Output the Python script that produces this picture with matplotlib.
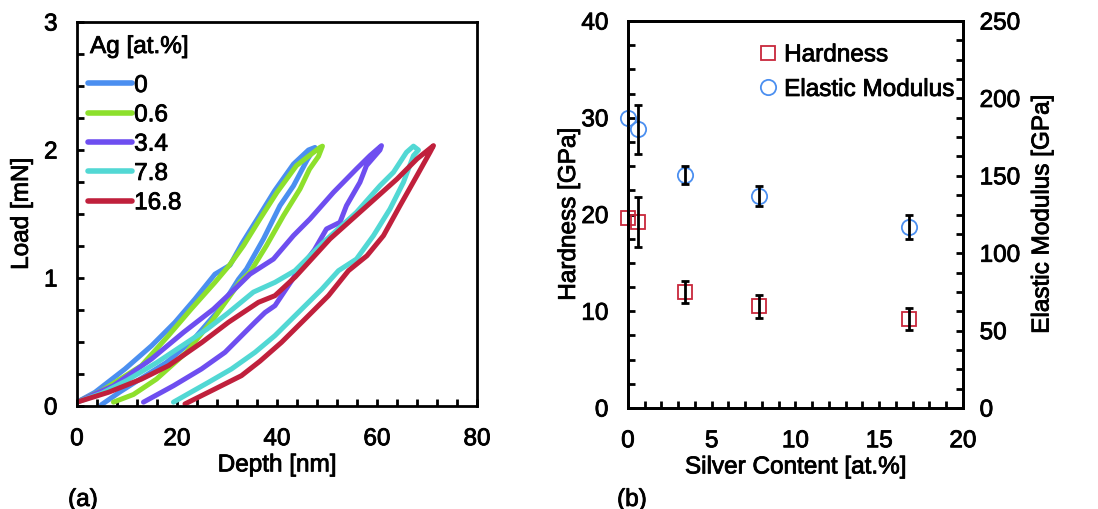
import matplotlib
matplotlib.use("Agg")
import matplotlib.pyplot as plt
import matplotlib.patheffects as pe
from matplotlib.ticker import MultipleLocator
from matplotlib.lines import Line2D
from matplotlib.text import Text

plt.rcParams['font.family'] = ['Liberation Sans', 'DejaVu Sans']
FS = 17.5

# ---- (a) load-depth curves: loading branch then unloading branch ----
ag_labels = ["0", "0.6", "3.4", "7.8", "16.8"]
colors = ["#4b8ff0", "#8de02c", "#6e4ef0", "#52d8d4", "#c0203c"]

depth_0 = [0, 3.6, 9.6, 14.9, 19.6, 23.6, 27.6, 30.6, 33.0, 36.2, 39.5, 43.3, 46.3, 47.6,
           46.0, 43.3, 40.6, 37.3, 33.9, 32.3, 28.6, 23.3, 17.9, 12.6, 8.6, 4.9]
load_0 = [0.03, 0.107, 0.289, 0.47, 0.654, 0.836, 1.03, 1.10, 1.27, 1.47, 1.68, 1.89, 2.0, 2.02,
          1.92, 1.72, 1.565, 1.305, 1.07, 0.99, 0.76, 0.52, 0.34, 0.21, 0.11, 0.01]

depth_06 = [0, 5.0, 12.9, 18.3, 22.9, 27.6, 30.5, 33.3, 36.6, 40.0, 43.9, 46.6, 48.6, 49.1,
            48.3, 46.5, 44.6, 41.3, 37.9, 34.6, 32.6, 27.3, 21.9, 15.9, 11.3, 7.3]
load_06 = [0.03, 0.12, 0.315, 0.55, 0.76, 0.966, 1.10, 1.253, 1.461, 1.669, 1.878, 1.96, 2.02, 2.03,
           1.95, 1.85, 1.695, 1.487, 1.253, 1.044, 0.97, 0.68, 0.42, 0.21, 0.09, 0.03]

depth_34 = [0, 7.3, 14.9, 21.3, 27.3, 32.0, 34.6, 39.3, 43.3, 46.6, 51.3, 55.9, 58.6, 60.9,
            60.6, 57.9, 56.6, 53.9, 52.6, 49.9, 47.5, 44.6, 43.6, 39.6, 37.6, 35.6, 29.6, 24.9,
            19.3, 13.3]
load_34 = [0.03, 0.158, 0.367, 0.575, 0.757, 0.93, 1.03, 1.148, 1.331, 1.461, 1.669, 1.852, 1.956, 2.034,
           2.0, 1.878, 1.748, 1.565, 1.435, 1.383, 1.22, 1.07, 1.018, 0.784, 0.73, 0.654, 0.419, 0.289,
           0.158, 0.03]

depth_78 = [0, 5.0, 10.0, 16.0, 21.0, 26.0, 30.0, 35.3, 39.6, 43.6, 49.3, 55.9, 60.6, 63.3, 65.9,
            67.3, 68.3, 67.3, 65.3, 62.6, 59.3, 55.9, 52.3, 49.0, 44.3, 39.6, 35.6, 30.9, 26.3, 22.0,
            19.3]
load_78 = [0.03, 0.10, 0.20, 0.34, 0.47, 0.60, 0.72, 0.89, 0.966, 1.057, 1.279, 1.513, 1.721, 1.826,
           1.982, 2.03, 2.0, 1.956, 1.748, 1.539, 1.331, 1.148, 1.057, 0.914, 0.732, 0.55, 0.419, 0.289,
           0.185, 0.09, 0.03]

depth_168 = [0, 6.3, 12.9, 18.3, 25.0, 30.3, 36.3, 39.6, 43.7, 50.6, 57.3, 64.0, 68.0, 71.3,
             70.6, 68.0, 64.6, 61.3, 58.0, 54.3, 50.3, 46.3, 40.9, 36.6, 32.9, 27.6, 21.6]
load_168 = [0.03, 0.107, 0.21, 0.315, 0.497, 0.654, 0.81, 0.862, 1.01, 1.305, 1.539, 1.773, 1.93, 2.034,
            1.982, 1.80, 1.565, 1.331, 1.174, 1.057, 0.862, 0.706, 0.497, 0.35, 0.237, 0.133, 0.016]

depths = [depth_0, depth_06, depth_34, depth_78, depth_168]
loads = [load_0, load_06, load_34, load_78, load_168]

# ---- (b) hardness and elastic modulus vs silver content ----
silver = [0, 0.6, 3.4, 7.8, 16.8]
hardness = [19.6, 19.2, 12.0, 10.5, 9.2]
hardness_err = [0, 2.6, 1.1, 1.17, 1.12]
modulus = [187.5, 180.0, 150.5, 137.0, 117.0]
modulus_err = [0, 15.8, 6.1, 6.4, 7.7]

RED_M = '#c8283c'
BLUE_M = '#4b8ff0'

fig = plt.figure(figsize=(10.98, 5.10), dpi=100)


def style_axis(ax, pad=14):
    for s in ax.spines.values():
        s.set_linewidth(2)
    ax.tick_params(which='both', direction='in', length=5, width=2,
                   labelsize=FS, pad=pad)
    ax.tick_params(axis='x', which='both', pad=16)


# Panel (a)
axa = fig.add_axes([0.0701, 0.2020, 0.3643, 0.7529])
for d, l, c, lab in zip(depths, loads, colors, ag_labels):
    axa.plot(d, l, color=c, lw=3.6, solid_capstyle='round',
             solid_joinstyle='round', label=lab)
axa.set_xlim(0, 80)
axa.set_ylim(0, 3)
axa.xaxis.set_major_locator(MultipleLocator(20))
axa.xaxis.set_minor_locator(MultipleLocator(4))
axa.yaxis.set_major_locator(MultipleLocator(1))
axa.yaxis.set_minor_locator(MultipleLocator(0.25))
style_axis(axa)
axa.tick_params(which='both', top=False, right=False)
axa.set_xlabel("Depth [nm]", fontsize=FS, labelpad=3)
axa.set_ylabel("Load [mN]", fontsize=FS, labelpad=8)
leg = axa.legend(loc='upper left', bbox_to_anchor=(0.0275, 0.862), frameon=False,
                 fontsize=FS, handlelength=1.8, handletextpad=0.1,
                 labelspacing=0.30, borderpad=0, borderaxespad=0)
for line in leg.get_lines():
    line.set_linewidth(4)
    line.set_solid_capstyle('round')
fig.text(90 / 1098, 1 - 48 / 510, "Ag [at.%]", fontsize=FS, va='center', ha='left')
fig.text(0.062, 0.006, "(a)", fontsize=FS)

# Panel (b)
axb = fig.add_axes([0.5719, 0.198, 0.3051, 0.7588])
axe = axb.twinx()

axb.plot(silver, hardness, ls='none', marker='s', ms=10, mfc='none', mec=RED_M,
         mew=1.3, clip_on=False, zorder=2)
axe.plot(silver, modulus, ls='none', marker='o', ms=11, mfc='none', mec=BLUE_M,
         mew=1.3, clip_on=False, zorder=2)

idx = [i for i, e in enumerate(hardness_err) if e > 0]
for ax, vals, errs in ((axb, hardness, hardness_err), (axe, modulus, modulus_err)):
    cont = ax.errorbar([silver[i] for i in idx], [vals[i] for i in idx],
                       yerr=[errs[i] for i in idx], fmt='none', ecolor='black',
                       elinewidth=2, capsize=3, capthick=2, zorder=3)
    for child in cont.get_children():
        child.set_clip_on(False)

axb.set_xlim(0, 20)
axb.set_ylim(0, 40)
axe.set_ylim(0, 250)
axb.xaxis.set_major_locator(MultipleLocator(5))
axb.xaxis.set_minor_locator(MultipleLocator(1))
axb.yaxis.set_major_locator(MultipleLocator(10))
axb.yaxis.set_minor_locator(MultipleLocator(2.5))
axe.yaxis.set_major_locator(MultipleLocator(50))
axe.yaxis.set_minor_locator(MultipleLocator(12.5))
style_axis(axb)
style_axis(axe, pad=12)
axb.tick_params(which='both', top=False, right=False)
axe.tick_params(which='both', top=False, left=False, right=True)
axb.set_xlabel("Silver Content [at.%]", fontsize=FS, labelpad=3)
axb.set_ylabel("Hardness [GPa]", fontsize=FS, labelpad=1)
axe.set_ylabel("Elastic Modulus [GPa]", fontsize=FS, labelpad=8)

handles = [Line2D([], [], ls='none', marker='s', ms=10, mfc='none', mec=RED_M, mew=1.3),
           Line2D([], [], ls='none', marker='o', ms=11, mfc='none', mec=BLUE_M, mew=1.3)]
axb.legend(handles, ["Hardness", "Elastic Modulus"], loc='upper left',
           bbox_to_anchor=(0.39, 0.94), frameon=False, fontsize=FS,
           handlelength=0.8, handletextpad=0.25, labelspacing=0.52,
           borderpad=0, borderaxespad=0)
fig.text(0.562, 0.006, "(b)", fontsize=FS)

# slightly heavier glyphs
for t in fig.findobj(Text):
    t.set_path_effects([pe.withStroke(linewidth=0.6, foreground='black')])

fig.savefig("out.png", dpi=100)
